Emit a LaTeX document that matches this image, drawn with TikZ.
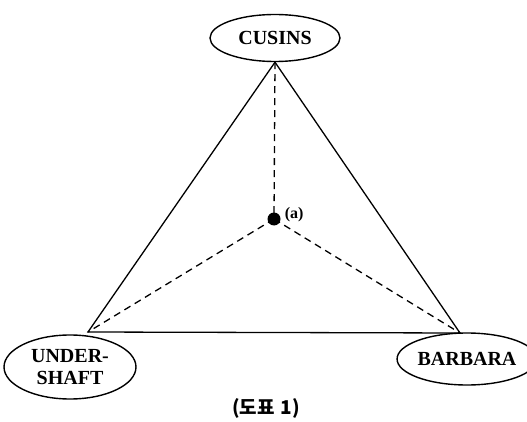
\documentclass[tikz,border=0pt]{standalone}
\usepackage{fontspec}
\setmainfont{Liberation Serif}
\newfontfamily\kofont{Noto Sans CJK KR}
\usetikzlibrary{shapes.geometric}
\tikzset{person/.style={ellipse,draw,line width=1.4pt,inner sep=0pt,
        font=\bfseries\fontsize{20}{20}\selectfont,align=center},
    side/.style={draw,line width=1.3pt,-},
    spoke/.style={draw,line width=1.3pt,dash pattern=on 7pt off 5pt}}

\begin{document}
\begin{tikzpicture}[x=1pt,y=-1pt]
    % Page frame
    \useasboundingbox (0,0) rectangle (527,422);

    % Persons
    \node[person, minimum width=130pt, minimum height=47pt] (cusins) at (275,38) {CUSINS};
    \node[person, minimum width=132pt, minimum height=64pt] (undershaft) at (70,367)
        {UNDER-\\[2pt]SHAFT};
    \node[person, minimum width=120pt, minimum height=52pt] (barbara) at (467,359) {BARBARA};

    % Corners of the triangle
    \coordinate (top) at (cusins.south);
    \coordinate (ul) at (88,332);
    \coordinate (ur) at (460,333);

    % Centre point
    \node[fill,circle,inner sep=0pt,minimum size=13pt] (a) at (274,219) {};
    \node[right,inner sep=0pt,font=\bfseries\fontsize{16}{16}\selectfont] (alabel)
        at ([xshift=4pt,yshift=4pt]a.east) {(a)};

    % Sides
    \draw[side] (top) -- (ul) -- (ur) -- cycle;

    % Spokes to the centre
    \draw[spoke] (top) -- (a.center);
    \draw[spoke] (a.center) -- (ul);
    \draw[spoke] (a.center) -- (ur);

    % Caption
    \node[font=\kofont\bfseries\fontsize{19}{19}\selectfont] (caption) at (266,408) {(도표\hspace{6pt}1)};
\end{tikzpicture}
\end{document}
